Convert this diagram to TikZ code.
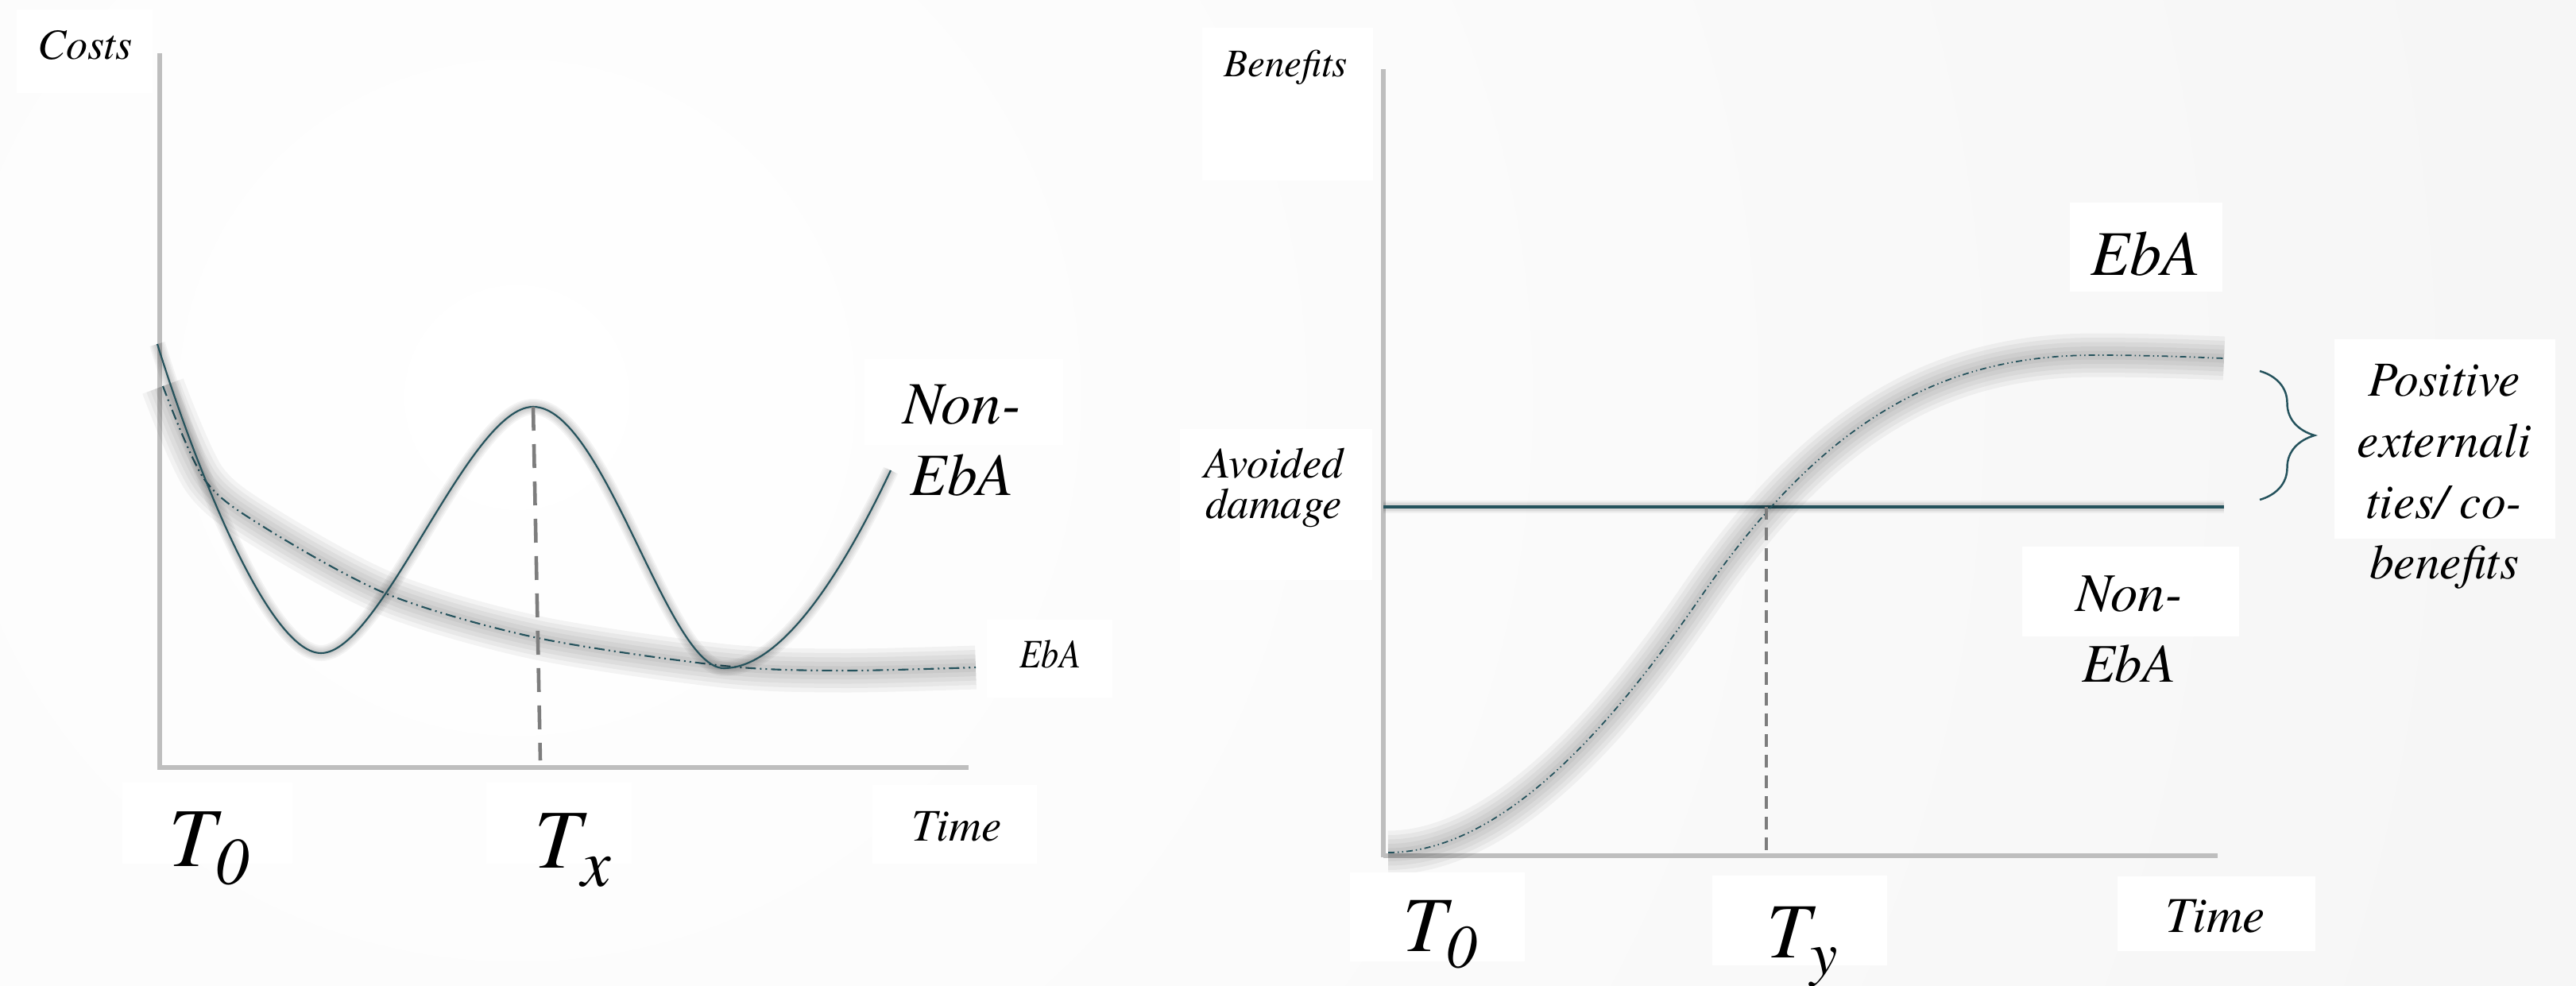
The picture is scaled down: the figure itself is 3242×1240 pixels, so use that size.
\documentclass[tikz,border=0pt]{standalone}
\usepackage{fontspec}
\setmainfont{texgyretermes}[Extension=.otf,UprightFont=*-regular,ItalicFont=*-italic,BoldFont=*-bold]
\newfontfamily\narrowB{texgyretermes}[Extension=.otf,UprightFont=*-regular,ItalicFont=*-italic,FakeStretch=0.87]
\usetikzlibrary{decorations.pathreplacing}

\definecolor{bggray}{RGB}{236,236,236}
\definecolor{curvecol}{RGB}{36,82,92}
\definecolor{axiscol}{RGB}{190,190,190}
\definecolor{dashcol}{RGB}{125,125,125}

\newcommand{\tlabel}[3]{\fontsize{#1}{#1}\selectfont T\raisebox{-.22em}{\fontsize{#2}{#2}\selectfont #3}}

\begin{document}
\begin{tikzpicture}[x=0.1mm,y=-0.1mm,
	lbl/.style={inner sep=0pt,anchor=base,font=\itshape},
	axis/.style={draw=axiscol,line width=1.5pt},
	curve/.style={draw=curvecol,line width=0.6pt},
	glow/.style={preaction={draw=black,draw opacity=.045,solid,line width=#1},
		preaction={draw=black,draw opacity=.045,solid,line width=#1*0.8},
		preaction={draw=black,draw opacity=.045,solid,line width=#1*0.6},
		preaction={draw=black,draw opacity=.045,solid,line width=#1*0.4},
		preaction={draw=black,draw opacity=.045,solid,line width=#1*0.2}},
	dashdotdot/.style={dash pattern=on 1.3mm off .5mm on .2mm off .5mm on .2mm off .5mm},
	finedash/.style={dash pattern=on .8mm off .4mm on .15mm off .4mm on .15mm off .4mm}]
	\useasboundingbox (0,0) rectangle (3242,1240);
	\fill[bggray] (0,0) rectangle (3242,1240);
	\begin{scope}
		\clip (0,0) rectangle (3242,1240);
		\shade[inner color=white,outer color=bggray] (650,500) circle (540mm);
	\end{scope}
	
	% costs
	\draw[axis] (201,67) -- (201,966);
	\draw[axis] (198,966) -- (1219,966);
	
	\draw[curve,dashdotdot,glow=5.5mm] plot[smooth] coordinates {(205,486) (257,603) (330,662) (488,748) (677,803) (911,838) (1060,844) (1228,840)};
	\draw[curve,glow=2mm] (198,433) .. controls (250,600) and (340,822) .. (404,822)
		.. controls (480,822) and (590,512) .. (671,512)
		.. controls (760,512) and (840,841) .. (911,841)
		.. controls (990,841) and (1070,700) .. (1121,592);
	\draw[dashcol,line width=1.3pt,dash pattern=on 3mm off 1.7mm] (671,512) -- (680,957);
	
	\fill[white] (21,12) rectangle (192,117);
	\fill[white] (154,985) rectangle (368,1087);
	\fill[white] (612,985) rectangle (795,1087);
	\fill[white] (1098,988) rectangle (1305,1087);
	\fill[white] (1088,452) rectangle (1338,560);
	\fill[white] (1242,780) rectangle (1400,878);
	
	\node[lbl,font=\fontsize{15.4}{18}\selectfont\itshape] (costs) at (107,74) {Costs};
	\node[lbl] (t0L) at (263,1090) {\tlabel{30}{24}{0}};
	\node[lbl] (txL) at (721,1092) {\tlabel{30}{24}{x}};
	\node[lbl,font=\fontsize{16.2}{19}\selectfont\itshape] (timeL) at (1204,1058) {Time};
	\node[lbl,font=\fontsize{21.5}{26}\selectfont\itshape] (nonL1) at (1211,533) {Non-};
	\node[lbl,font=\fontsize{21.5}{26}\selectfont\itshape] (nonL2) at (1211,623) {EbA};
	\node[lbl,font=\fontsize{14.5}{17}\narrowB\itshape] (ebaL) at (1322,840) {EbA};
	
	% benefits
	\draw[axis] (1741,87) -- (1741,1079);
	\draw[axis] (1741,1077) -- (2791,1077);
	
	\draw[curvecol,line width=1.1pt,glow=1.6mm] (1741,638) -- (2799,638);
	\draw[curve,line width=.5pt,finedash,glow=5.5mm] (1747,1073) .. controls (1897,1073) and (2040,897) .. (2140,752)
		.. controls (2290,535) and (2437,447) .. (2637,447)
		.. controls (2700,447) and (2750,449) .. (2799,451);
	\draw[dashcol,line width=1.1pt,dash pattern=on 1.6mm off 1mm] (2223,638) -- (2223,1077);
	\draw[curvecol,line width=0.7pt,decorate,decoration={brace,amplitude=6.9mm}] (2844,467) -- (2844,629);
	
	\fill[white] (1513,35) rectangle (1728,227);
	\fill[white] (1485,540) rectangle (1727,730);
	\fill[white] (2605,255) rectangle (2797,367);
	\fill[white] (2545,688) rectangle (2818,801);
	\fill[white] (2938,427) rectangle (3216,678);
	\fill[white] (1699,1098) rectangle (1919,1210);
	\fill[white] (2155,1102) rectangle (2375,1215);
	\fill[white] (2665,1103) rectangle (2914,1197);
	
	\node[lbl,font=\fontsize{14}{17}\selectfont\itshape] (benefits) at (1618,96) {Benefits};
	\node[lbl,font=\fontsize{15.6}{18}\selectfont\itshape] (avoid1) at (1603,601) {Avoided};
	\node[lbl,font=\fontsize{15.6}{18}\selectfont\itshape] (avoid2) at (1603,652) {damage};
	\node[lbl,font=\fontsize{22.8}{26}\selectfont\itshape] (ebaR) at (2700,346) {EbA};
	\node[lbl,font=\fontsize{19.5}{23}\selectfont\itshape] (nonR1) at (2680,769) {Non-};
	\node[lbl,font=\fontsize{19.5}{23}\selectfont\itshape] (nonR2) at (2679,858) {EbA};
	\node[lbl,font=\fontsize{17.5}{21}\selectfont\itshape] (pos1) at (3076,498) {Positive};
	\node[lbl,font=\fontsize{17.5}{21}\selectfont\itshape] (pos2) at (3076,575) {externali};
	\node[lbl,font=\fontsize{17.5}{21}\selectfont\itshape] (pos3) at (3076,652) {ties/ co-};
	\node[lbl,font=\fontsize{17.5}{21}\selectfont\itshape] (pos4) at (3076,728) {benefits};
	\node[lbl] (t0R) at (1812,1197) {\tlabel{28}{22}{0}};
	\node[lbl] (tyR) at (2268,1205) {\tlabel{28}{22}{y}};
	\node[lbl,font=\fontsize{18}{21}\selectfont\itshape] (timeR) at (2788,1173) {Time};
\end{tikzpicture}
\end{document}
